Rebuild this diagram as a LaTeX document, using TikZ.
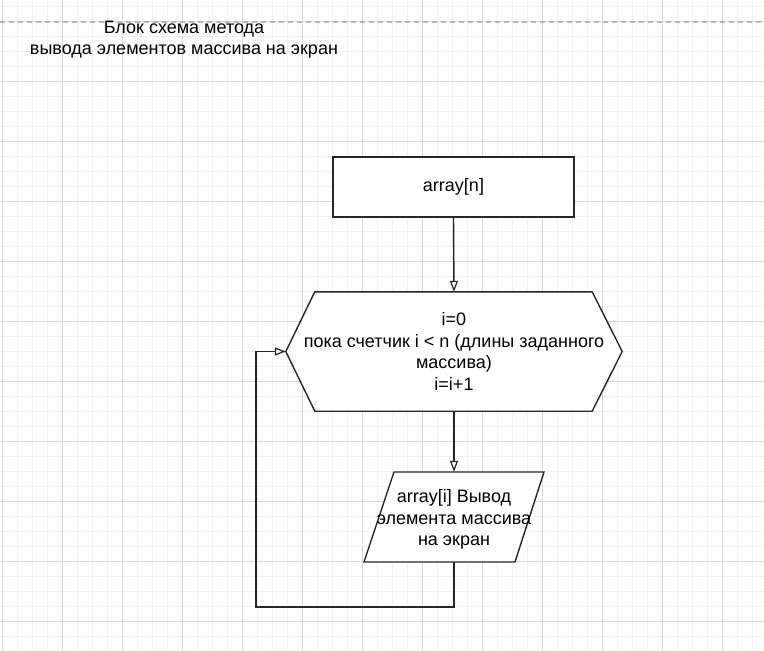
\documentclass[tikz,border=0pt]{standalone}
\usepackage{fontspec}
\setmainfont{Liberation Sans}
\usetikzlibrary{arrows.meta,calc}
\begin{document}
\begin{tikzpicture}[x=1pt,y=-1pt,
  shape line/.style={draw=black!85, line width=1.4pt},
  conn/.style={draw=black!85, line width=1.4pt, -{Triangle[open,length=11pt,width=8pt,line width=1.2pt]}},
  txt/.style={font=\fontsize{18}{21.5}\selectfont, align=center, inner sep=0pt}]
\useasboundingbox (0,0) rectangle (764,651);
\fill[white] (0,0) rectangle (764,651);
% grid
\foreach \x in {2,17,...,764} \draw[black!5, line width=1pt] (\x,0) -- (\x,651);
\foreach \y in {6,21,...,651} \draw[black!5, line width=1pt] (0,\y) -- (764,\y);
\foreach \x in {2,62,...,764} \draw[black!15, line width=1pt] (\x,0) -- (\x,651);
\foreach \y in {21,81,...,651} \draw[black!15, line width=1pt] (0,\y) -- (764,\y);
\draw[black!28, line width=1.4pt, dash pattern=on 5pt off 4pt] (0,22) -- (764,22);
% title
\node[txt] (title) at (184,39.5) {Блок схема метода\\вывода элементов массива на экран};
% nodes
\node[txt, shape line, fill=white, minimum width=241pt, minimum height=60pt] (r) at (453.5,187) {array[n]};
\node[txt, minimum width=336pt, minimum height=119pt] (h) at (454,351.5) {};
\filldraw[shape line, fill=white] (h.west) -- ($(h.north west)+(29,0)$) -- ($(h.north east)+(-30,0)$) -- (h.east) -- ($(h.south east)+(-30,0)$) -- ($(h.south west)+(29,0)$) -- cycle;
\node[txt] at (h.center) {i=0\\пока счетчик i < n (длины заданного\\массива)\\i=i+1};
\node[txt, minimum width=150pt, minimum height=90pt] (p) at (454,517) {};
\filldraw[shape line, fill=white] ($(p.center)+(-60,-45)$) -- ($(p.center)+(90,-45)$) -- ($(p.center)+(61,45)$) -- ($(p.center)+(-90,45)$) -- cycle;
\node[txt] at ($(p.center)+(0,2.5)$) {array[i] Вывод\\элемента массива\\на экран};
\coordinate (c1) at (256,607);
% connectors
\draw[conn] (r.south) -- (h.north);
\draw[conn] (h.south) -- (p.north);
\draw[conn] (p.south) |- (c1) |- (h.west);
\end{tikzpicture}
\end{document}
